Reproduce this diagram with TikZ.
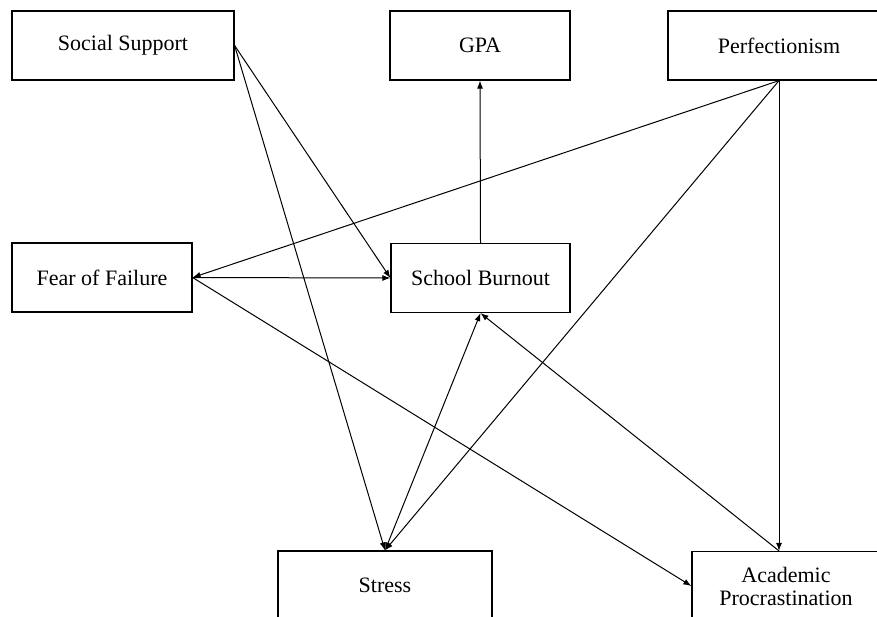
\documentclass[tikz,border=0pt]{standalone}
\usepackage{fontspec}
\setmainfont{Liberation Serif}
\usepackage{tikz}
\usetikzlibrary{arrows.meta}
\tikzstyle{box}=[draw, rectangle, line width=0.6pt, inner sep=0pt, minimum height=34.5pt, align=center, font=\fontsize{11}{11.5}\selectfont]
\tikzstyle{arrow}=[draw=black, line width=0.5pt, >={Latex[length=4pt, width=3pt]}]

\begin{document}
\begin{tikzpicture}[x=0.5pt, y=-0.5pt]
		   \useasboundingbox (0,0) rectangle (877,616);
		   \begin{scope}
			   \node (ss) at (123, 45.5)[box, minimum width=111pt] {Social Support};
			   \node (gpa) at (480, 45.5)[box, minimum width=90pt] {GPA};
			   \node (perf) at (779, 45.5)[box, minimum width=111pt] {Perfectionism};
			   \node (fof) at (102, 277.5)[box, minimum width=90pt] {Fear of Failure};
			   \node (sb) at (480.5, 278)[box, minimum width=89.5pt] {School Burnout};
			   \node (stress) at (385, 585.5)[box, minimum width=107pt] {Stress};
			   \node (ap) at (786, 586)[box, minimum width=94pt] {Academic\\Procrastination};
		   \end{scope}
		   \begin{scope}
			   \path (ss.east) edge [arrow, ->] (sb.west);
			   \path (ss.east) edge [arrow, ->] (stress.north);
			   \path (perf.south) edge [arrow, ->] (fof.east);
			   \path (perf.south) edge [arrow, ->] (stress.north);
			   \path (perf.south) edge [arrow, ->] ([xshift=-3.5pt]ap.north);
			   \path (fof.east) edge [arrow, ->] (sb.west);
			   \path (fof.east) edge [arrow, ->] (ap.west);
			   \path (sb.north) edge [arrow, ->] (gpa.south);
			   \path (stress.north) edge [arrow, <->] (sb.south);
			   \path ([xshift=-3.5pt]ap.north) edge [arrow, ->] (sb.south);
		   \end{scope}
	   \end{tikzpicture}
\end{document}
